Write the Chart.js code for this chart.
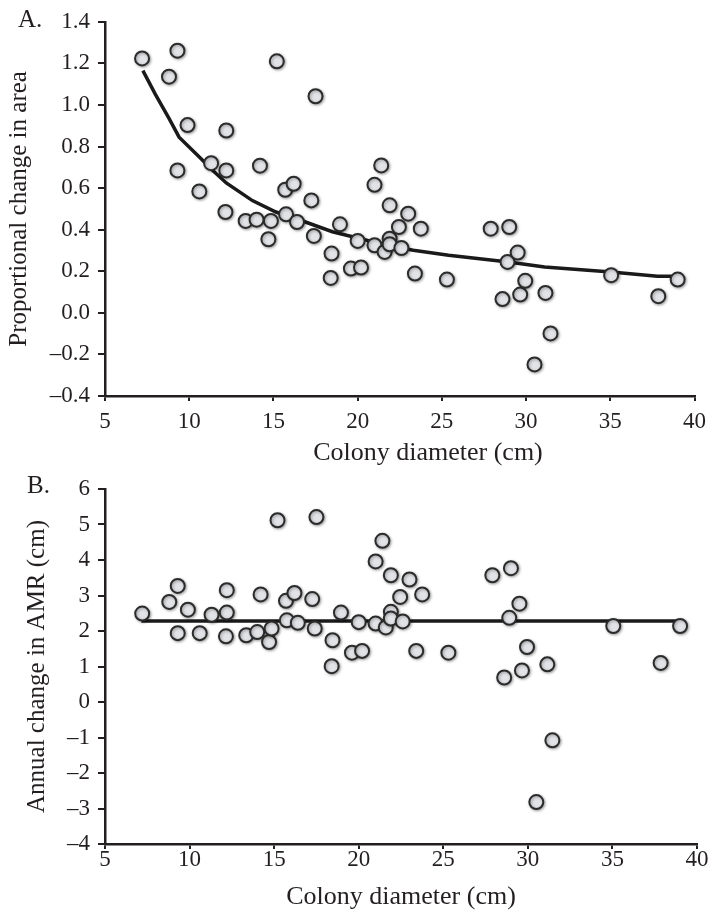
<!DOCTYPE html>
<html>
<head>
<meta charset="utf-8">
<title>Colony diameter</title>
<script src="https://cdn.jsdelivr.net/npm/chart.js@4.4.1/dist/chart.umd.min.js"></script>
<style>
  body { margin: 0; background: #fff; width: 713px; height: 912px; position: relative; overflow: hidden;
         font-family: "Liberation Serif", serif; color: #231f20; }
  canvas { position: absolute; left: 0; }
  #chartA { top: 0; }
  #chartB { top: 466px; }
  .panel { position: absolute; font-size: 25px; line-height: 1; }
  .xtitle { position: absolute; font-size: 26px; line-height: 26px; text-align: center; width: 320px; }
</style>
</head>
<body>
<canvas id="chartA" width="713" height="466"></canvas>
<canvas id="chartB" width="713" height="446"></canvas>
<div class="panel" style="left:18px; top:6px;">A.</div>
<div class="panel" style="left:27px; top:472px;">B.</div>
<div class="xtitle" style="left:268px; top:439px;">Colony diameter (cm)</div>
<script>
// datos (una colonia por posicion)
const diameter = [7.2, 8.8, 9.3, 9.3, 9.9, 10.6, 11.3, 12.15, 12.2, 12.2, 13.35, 14.0, 14.2, 14.7, 14.85,
  15.2, 15.7, 15.75, 16.2, 16.4, 17.25, 17.4, 17.5, 18.4, 18.45, 18.95, 19.6, 20.0, 20.2, 21.0, 21.0,
  21.4, 21.6, 21.9, 21.9, 21.9, 22.45, 22.6, 23.0, 23.4, 23.75, 25.3, 27.9, 28.6, 28.9, 29.0, 29.5,
  29.65, 29.95, 30.5, 31.15, 31.45, 35.05, 37.85, 39.0];

const areaChange = [1.224, 1.136, 1.261, 0.685, 0.903, 0.584, 0.720, 0.485, 0.685, 0.877, 0.442, 0.448,
  0.708, 0.354, 0.442, 1.210, 0.592, 0.474, 0.621, 0.437, 0.541, 0.370, 1.042, 0.168, 0.285, 0.426,
  0.213, 0.346, 0.218, 0.616, 0.325, 0.709, 0.293, 0.517, 0.357, 0.330, 0.413, 0.312, 0.477, 0.189,
  0.405, 0.160, 0.405, 0.066, 0.245, 0.413, 0.290, 0.088, 0.154, -0.248, 0.096, -0.099, 0.181, 0.080, 0.160];

const amrChange = [2.49, 2.82, 3.27, 1.94, 2.60, 1.94, 2.46, 1.85, 2.52, 3.15, 1.88, 1.97, 3.03, 1.69,
  2.07, 5.12, 2.85, 2.30, 3.07, 2.23, 2.90, 2.07, 5.21, 1.01, 1.74, 2.52, 1.39, 2.25, 1.44, 3.96, 2.21,
  4.54, 2.10, 3.57, 2.54, 2.35, 2.96, 2.27, 3.45, 1.44, 3.03, 1.39, 3.57, 0.69, 2.37, 3.77, 2.77, 0.89,
  1.55, -2.82, 1.06, -1.08, 2.14, 1.10, 2.14];

// curva ajustada (A) y linea plana (B)
const fitAreaX = [7.25, 8.0, 8.8, 9.4, 10.6, 11.4, 12.2, 13.75, 15.15, 16.9, 18.5, 20.0, 21.65, 23.3,
  25.4, 28.95, 31.1, 35.05, 37.8, 39.0];
const fitAreaY = [1.165, 1.05, 0.935, 0.845, 0.75, 0.685, 0.625, 0.54, 0.485, 0.437, 0.39, 0.36, 0.327,
  0.301, 0.277, 0.245, 0.221, 0.197, 0.176, 0.176];
const fitAmrX = [7.15, 39.0];
const fitAmrY = [2.28, 2.28];

const xTicks = [5, 10, 15, 20, 25, 30, 35, 40];
const areaTicks = [-0.4, -0.2, 0.0, 0.2, 0.4, 0.6, 0.8, 1.0, 1.2, 1.4];
const amrTicks = [-4, -3, -2, -1, 0, 1, 2, 3, 4, 5, 6];

const INK = '#231f20';
const FONT = '"Liberation Serif", serif';

// sombra suave bajo los circulos
const shadowPlugin = {
  id: 'markerShadow',
  beforeDatasetDraw(chart, args) {
    if (args.index !== 0) return;
    const ctx = chart.ctx;
    ctx.save();
    ctx.shadowColor = 'rgba(0,0,0,0.35)';
    ctx.shadowBlur = 3;
    ctx.shadowOffsetX = 1;
    ctx.shadowOffsetY = 1;
  },
  afterDatasetDraw(chart, args) {
    if (args.index !== 0) return;
    chart.ctx.restore();
  }
};

function pares(xs, ys) {
  return xs.map((x, i) => ({ x: x, y: ys[i] }));
}

function crearGrafico(id, valores, fitX, fitY, yTicks, cfg) {
  const canvas = document.getElementById(id);
  return new Chart(canvas, {
    type: 'scatter',
    data: {
      datasets: [{
        data: pares(diameter, valores),
        pointRadius: 7,
        pointBorderWidth: 2,
        pointBackgroundColor: '#e2e3e7',
        pointBorderColor: '#2b2b2b'
      }, {
        data: pares(fitX, fitY),
        showLine: true,
        pointRadius: 0,
        borderColor: '#1a1a1a',
        borderWidth: 3.5,
        tension: 0
      }]
    },
    options: {
      responsive: false,
      animation: false,
      layout: { padding: { top: cfg.top, right: 16, left: 0, bottom: 0 } },
      plugins: { legend: { display: false }, tooltip: { enabled: false } },
      scales: {
        x: {
          type: 'linear',
          min: 5,
          max: 40,
          afterBuildTicks: s => { s.ticks = xTicks.map(v => ({ value: v })); },
          afterFit: s => { s.height = cfg.xHeight; },
          grid: { drawOnChartArea: false, tickLength: 5, color: INK, lineWidth: 2 },
          border: { color: INK, width: 2.5 },
          ticks: { color: INK, font: { family: FONT, size: 23 }, padding: cfg.xPad, maxRotation: 0 },
          title: {
            display: cfg.xTitle, text: 'Colony diameter (cm)', color: INK,
            font: { family: FONT, size: 26, lineHeight: 1 }, padding: { top: 0, bottom: cfg.xTitlePad }
          }
        },
        y: {
          type: 'linear',
          min: yTicks[0],
          max: yTicks[yTicks.length - 1],
          afterBuildTicks: s => { s.ticks = yTicks.map(v => ({ value: v })); },
          afterFit: s => { s.width = 105; },
          grid: { drawOnChartArea: false, tickLength: 7, color: INK, lineWidth: 2 },
          border: { color: INK, width: 2.5 },
          ticks: {
            color: INK, font: { family: FONT, size: 23 }, padding: 8,
            callback: v => cfg.fmt(v).replace('-', '\u2013')
          },
          title: {
            display: true, text: cfg.yTitle, color: INK,
            font: { family: FONT, size: 25, lineHeight: 1 }, padding: { top: cfg.yTitlePad, bottom: 0 }
          }
        }
      }
    },
    plugins: [shadowPlugin]
  });
}

document.addEventListener('DOMContentLoaded', () => {
  // en A el titulo del eje x esta desplazado a la derecha, va como texto aparte
  crearGrafico('chartA', areaChange, fitAreaX, fitAreaY, areaTicks, {
    top: 21, xHeight: 70, xPad: 7, xTitle: false, xTitlePad: 1,
    yTitle: 'Proportional change in area', yTitlePad: 7,
    fmt: v => v.toFixed(1)
  });
  crearGrafico('chartB', amrChange, fitAmrX, fitAmrY, amrTicks, {
    top: 23, xHeight: 68, xPad: -3, xTitle: true, xTitlePad: 2,
    yTitle: 'Annual change in AMR (cm)', yTitlePad: 25,
    fmt: v => String(v)
  });
});
</script>
</body>
</html>
